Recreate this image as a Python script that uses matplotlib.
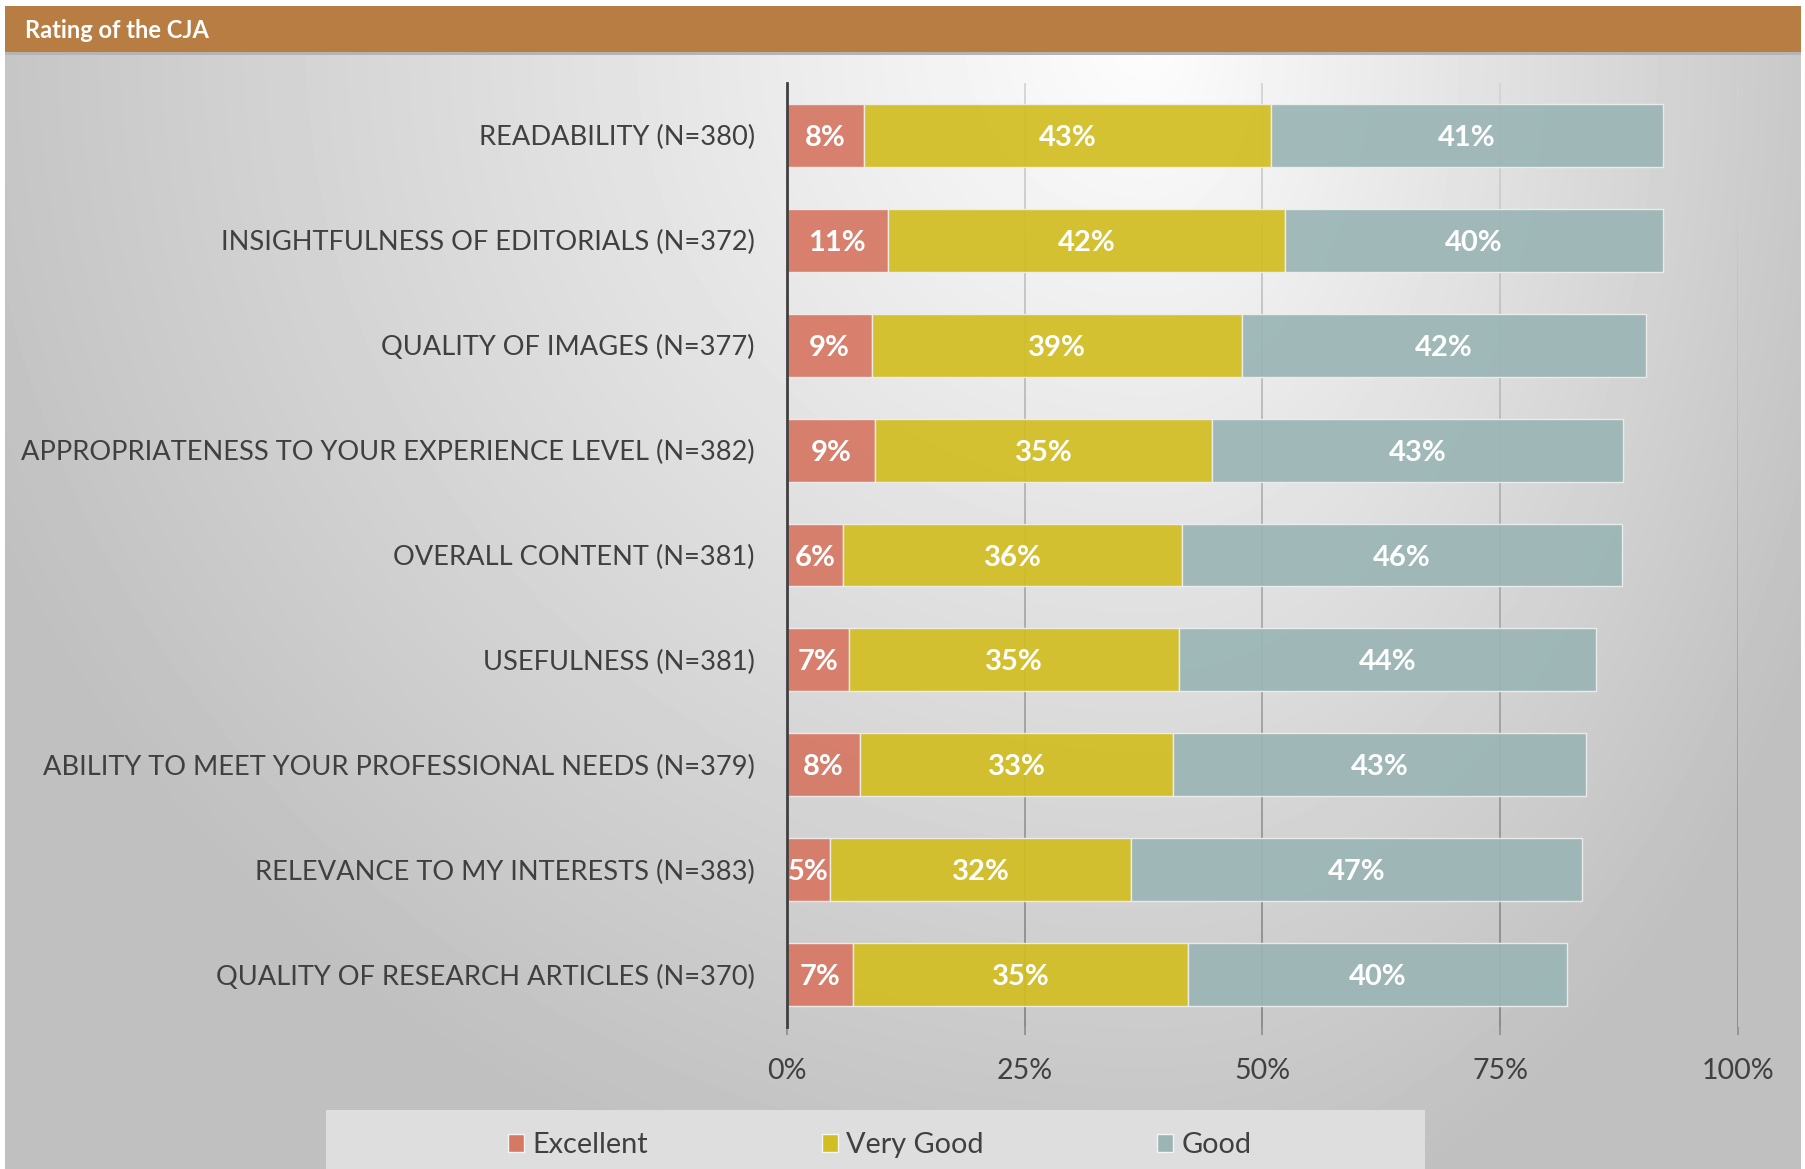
import numpy as np
import matplotlib.pyplot as plt
from matplotlib.patches import Rectangle, Patch
from matplotlib.collections import LineCollection

plt.rcParams['font.family'] = ['Lato', 'DejaVu Sans']

# data (share of respondents, %)
categories = [
    "READABILITY (N=380)",
    "INSIGHTFULNESS OF EDITORIALS (N=372)",
    "QUALITY OF IMAGES (N=377)",
    "APPROPRIATENESS TO YOUR EXPERIENCE LEVEL (N=382)",
    "OVERALL CONTENT (N=381)",
    "USEFULNESS (N=381)",
    "ABILITY TO MEET YOUR PROFESSIONAL NEEDS (N=379)",
    "RELEVANCE TO MY INTERESTS (N=383)",
    "QUALITY OF RESEARCH ARTICLES (N=370)",
]
excellent = [8.1, 10.6, 9.0, 9.3, 5.9, 6.6, 7.7, 4.6, 7.0]
very_good = [42.8, 41.8, 38.9, 35.4, 35.7, 34.6, 32.9, 31.6, 35.2]
good = [41.2, 39.7, 42.4, 43.2, 46.2, 43.9, 43.4, 47.4, 39.8]
series_names = ["Excellent", "Very Good", "Good"]
colors = ["#D77864", "#D2BE23", "#9BB5B5"]
xticks = [0, 25, 50, 75, 100]
xtick_labels = ["0%", "25%", "50%", "75%", "100%"]

W, H = 1805, 1169
fig = plt.figure(figsize=(W / 100, H / 100), dpi=100)
fig.patch.set_facecolor("white")

# grey radial-ish background behind the chart
bg = fig.add_axes([5 / W, 0, 1796 / W, (H - 52) / H])
yy, xx = np.mgrid[52:H, 5:1801]
dx = xx - 1150.0
sx = np.where(dx < 0, 1200.0, 720.0)
r = np.sqrt((dx / sx) ** 2 + ((yy - 40.0) / 1150.0) ** 2)
shade = np.clip(253 - 58 * r, 192, 253) / 255
bg.imshow(shade, cmap="gray", vmin=0, vmax=1, aspect="auto", interpolation="bilinear")
bg.axis("off")

# title bar
fig.add_artist(Rectangle((5 / W, 1 - 55 / H), 1796 / W, 3 / H, transform=fig.transFigure,
                         color="#b4b4b4", lw=0))
fig.add_artist(Rectangle((5 / W, 1 - 52 / H), 1796 / W, 46 / H, transform=fig.transFigure,
                         color="#B87D42", lw=0))
fig.text(25 / W, 1 - 31 / H, "Rating of the CJA", color="white", fontweight="bold",
         fontsize=17, va="center", ha="left")

# main chart
ax = fig.add_axes([786.7 / W, 1 - 1027 / H, 951.3 / W, 944 / H])
ax.set_facecolor("none")
y = np.arange(len(categories))
left = np.zeros(len(categories))
for name, vals, c in zip(series_names, [excellent, very_good, good], colors):
    bars = ax.barh(y, vals, left=left, height=0.6, color=c, edgecolor="#eeeeee",
                   linewidth=1, label=name, zorder=3, alpha=0.93)
    txts = ax.bar_label(bars, labels=[f"{v:.0f}%" for v in vals], label_type="center",
                        color="white", fontweight="bold", fontsize=21)
    for tx in txts:
        tx.set_va("center_baseline")
    left += np.array(vals)

ax.set_xlim(0, 100)
ax.set_ylim(len(categories) - 0.5, -0.5)

# gridlines get darker towards the bottom
ys = np.linspace(-0.5, len(categories) - 0.5, 80)
t = np.linspace(0, 1, len(ys) - 1)
for xt in xticks[1:]:
    segs = [[(xt, ys[i]), (xt, ys[i + 1])] for i in range(len(ys) - 1)]
    cols = [(g, g, g) for g in (0.83 - 0.30 * t)]
    ax.add_collection(LineCollection(segs, colors=cols, linewidths=1.3, zorder=1))

ax.set_xticks(xticks, xtick_labels)
ax.tick_params(axis="x", length=6, width=1.2, color="#8c8c8c", pad=16.5,
               labelsize=20.5, labelcolor="#404040")
ax.set_yticks(y, categories)
ax.tick_params(axis="y", length=0, pad=23, labelsize=19.6, labelcolor="#404040")
for s in ["top", "right", "bottom"]:
    ax.spines[s].set_visible(False)
ax.spines["left"].set_color("#404040")
ax.spines["left"].set_linewidth(2)
ax.spines["left"].set_zorder(4)

# legend
fig.add_artist(Rectangle((326 / W, 0), 1099 / W, (H - 1110) / H, transform=fig.transFigure,
                         color="#DEDEDE", lw=0))
handles = [Patch(facecolor=c, edgecolor="#f4f4f4", lw=1) for c in colors]
fig.legend(handles, series_names, loc="center", bbox_to_anchor=(880 / W, 1 - 1145 / H),
           ncol=3, frameon=False, fontsize=20.8, handlelength=0.55, handleheight=0.6,
           handletextpad=0.3, columnspacing=6.0, labelcolor="#404040")

fig.savefig("out.png", dpi=100)
